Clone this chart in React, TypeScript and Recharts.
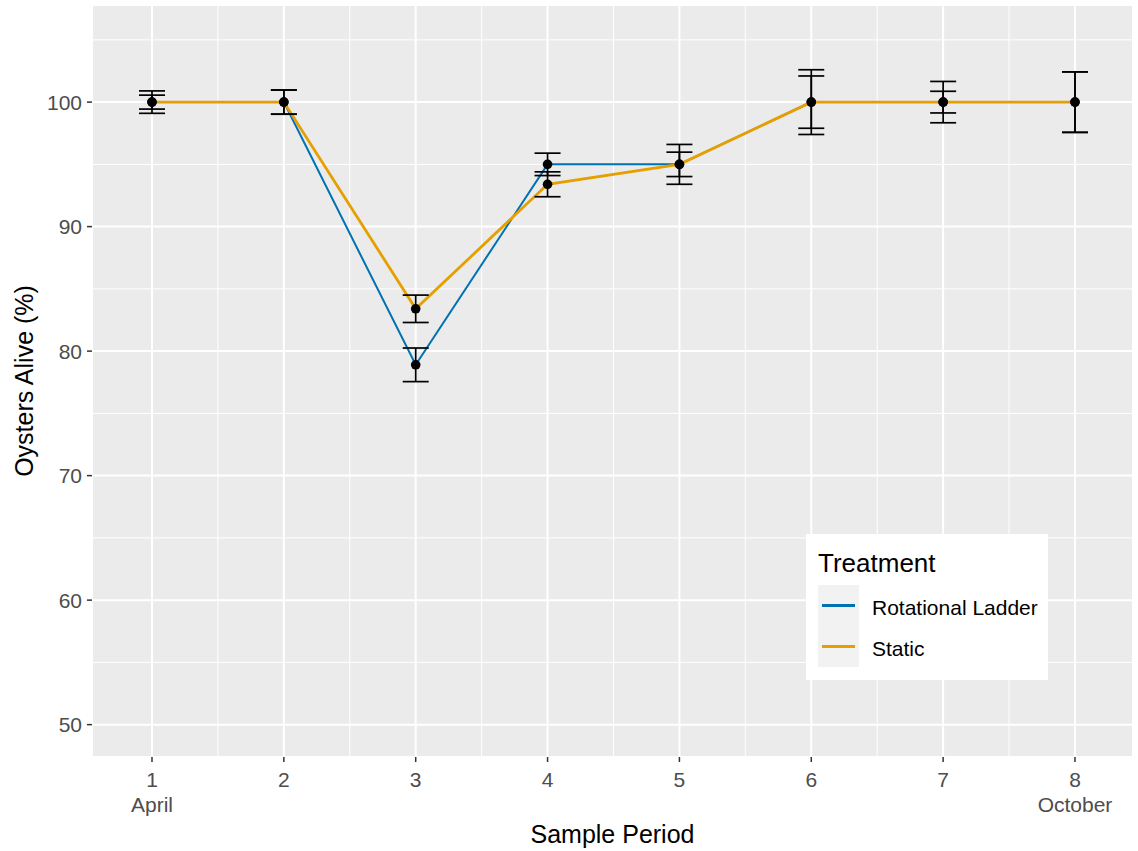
import {
  ComposedChart,
  Line,
  XAxis,
  YAxis,
  CartesianGrid,
  ReferenceLine,
  ErrorBar,
  Legend,
} from "recharts";

const periods = [1, 2, 3, 4, 5, 6, 7, 8];
const periodMonths = ["April", "", "", "", "", "", "", "October"];

const rotationalLadder = [100, 100, 78.9, 95, 95, 100, 100, 100];
const rotationalLadderSe = [0.9, 0.97, 1.35, 0.9, 1.6, 2.6, 1.66, 2.43];
const staticTreatment = [100, 100, 83.4, 93.4, 95, 100, 100, 100];
const staticSe = [0.56, 0.97, 1.1, 1.0, 0.98, 2.1, 0.87, 2.43];

const yTicks = [50, 60, 70, 80, 90, 100];
const yMinor = [55, 65, 75, 85, 95, 105];
const xMinor = [1.5, 2.5, 3.5, 4.5, 5.5, 6.5, 7.5];

const BLUE = "#0072B2";
const ORANGE = "#E69F00";
const TICK_TEXT = "#4D4D4D";
const FONT = "'Liberation Sans', Arial, sans-serif";

const data = periods.map((p, i) => ({
  period: p,
  rotational: rotationalLadder[i],
  rotationalSe: rotationalLadderSe[i],
  static: staticTreatment[i],
  staticSe: staticSe[i],
}));

function PeriodTick(props: any) {
  const { x, y, payload } = props;
  const month = periodMonths[periods.indexOf(payload.value)];
  return (
    <g>
      <text x={x} y={y} dy={23} textAnchor="middle" fill={TICK_TEXT} fontSize={21}>
        {payload.value}
      </text>
      {month && (
        <text x={x} y={y} dy={48} textAnchor="middle" fill={TICK_TEXT} fontSize={21}>
          {month}
        </text>
      )}
    </g>
  );
}

function TreatmentLegend(props: any) {
  const items = (props.payload || []).filter((e: any) => e.type !== "none");
  return (
    <div
      style={{
        background: "#fff",
        width: 242,
        height: 146,
        boxSizing: "border-box",
        padding: "14px 0 0 12px",
        fontFamily: FONT,
      }}
    >
      <div style={{ fontSize: 26, color: "#000", lineHeight: "30px", height: 37 }}>Treatment</div>
      {items.map((e: any) => (
        <div key={e.value} style={{ display: "flex", alignItems: "center", height: 41 }}>
          <div
            style={{
              width: 41,
              height: 41,
              background: "#F2F2F2",
              display: "flex",
              alignItems: "center",
              justifyContent: "center",
            }}
          >
            <div style={{ width: 33, height: 3, background: e.color }} />
          </div>
          <span style={{ marginLeft: 13, marginTop: 4, fontSize: 21, color: "#000" }}>{e.value}</span>
        </div>
      ))}
    </div>
  );
}

export default function App() {
  return (
    <div style={{ position: "absolute", left: 0, top: 0, background: "#fff", fontFamily: FONT }}>
      <ComposedChart
        width={1138}
        height={851}
        data={data}
        margin={{ top: 5, right: 5, bottom: 0, left: 0 }}
      >
        <CartesianGrid fill="#EBEBEB" stroke="#FFFFFF" strokeWidth={2} />
        {xMinor.map((v) => (
          <ReferenceLine key={`x${v}`} x={v} stroke="#FFFFFF" strokeWidth={1} />
        ))}
        {yMinor.map((v) => (
          <ReferenceLine key={`y${v}`} y={v} stroke="#FFFFFF" strokeWidth={1} />
        ))}
        <XAxis
          dataKey="period"
          type="number"
          domain={[0.545, 8.44]}
          allowDataOverflow
          ticks={periods}
          height={94}
          axisLine={false}
          tickSize={5}
          tickMargin={2}
          tickLine={{ stroke: "#333333", strokeWidth: 1.5 }}
          tick={<PeriodTick />}
          label={{
            content: ({ viewBox }: any) => (
              <text
                x={viewBox.x + viewBox.width / 2}
                y={viewBox.y + 86}
                textAnchor="middle"
                fontSize={25}
                fill="#000"
              >
                Sample Period
              </text>
            ),
          }}
        />
        <YAxis
          type="number"
          domain={[47.4, 107.8]}
          allowDataOverflow
          ticks={yTicks}
          width={92}
          axisLine={false}
          tickSize={5}
          tickMargin={5}
          tickLine={{ stroke: "#333333", strokeWidth: 1.5 }}
          tick={{ fill: TICK_TEXT, fontSize: 21 }}
          label={{
            content: ({ viewBox }: any) => {
              const cx = viewBox.x + 24;
              const cy = viewBox.y + viewBox.height / 2;
              return (
                <text
                  x={cx}
                  y={cy}
                  transform={`rotate(-90 ${cx} ${cy})`}
                  textAnchor="middle"
                  dominantBaseline="central"
                  fontSize={25}
                  fill="#000"
                >
                  Oysters Alive (%)
                </text>
              );
            },
          }}
        />
        <Line
          name="Rotational Ladder"
          dataKey="rotational"
          stroke={BLUE}
          strokeWidth={2}
          dot={false}
          activeDot={false}
          isAnimationActive={false}
        />
        <Line
          name="Static"
          dataKey="static"
          stroke={ORANGE}
          strokeWidth={2.8}
          dot={false}
          activeDot={false}
          isAnimationActive={false}
        />
        {/* error bars, then points on top of both lines */}
        <Line
          dataKey="rotational"
          stroke="none"
          legendType="none"
          dot={false}
          activeDot={false}
          isAnimationActive={false}
        >
          <ErrorBar dataKey="rotationalSe" direction="y" width={13} stroke="#000" strokeWidth={1.7} />
        </Line>
        <Line
          dataKey="static"
          stroke="none"
          legendType="none"
          dot={false}
          activeDot={false}
          isAnimationActive={false}
        >
          <ErrorBar dataKey="staticSe" direction="y" width={13} stroke="#000" strokeWidth={1.7} />
        </Line>
        <Line
          dataKey="rotational"
          stroke="none"
          legendType="none"
          dot={{ r: 4.8, fill: "#000", stroke: "none" }}
          activeDot={false}
          isAnimationActive={false}
        />
        <Line
          dataKey="static"
          stroke="none"
          legendType="none"
          dot={{ r: 4.8, fill: "#000", stroke: "none" }}
          activeDot={false}
          isAnimationActive={false}
        />
        <Legend
          layout="horizontal"
          verticalAlign="middle"
          align="center"
          wrapperStyle={{ left: 806, top: 534, width: 242, height: 146 }}
          content={<TreatmentLegend />}
        />
      </ComposedChart>
    </div>
  );
}
